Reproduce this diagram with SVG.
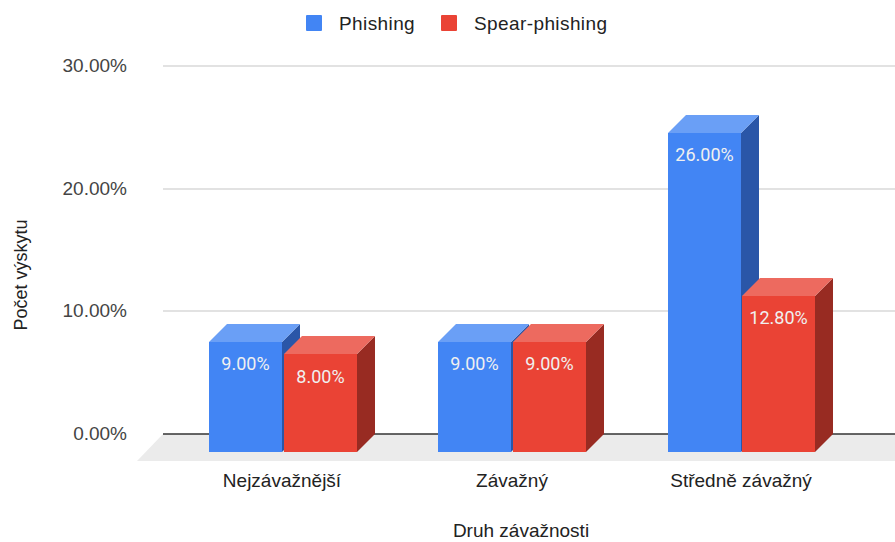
<svg xmlns="http://www.w3.org/2000/svg" width="895" height="542" viewBox="0 0 895 542">
  <style>
    .axis { font-family: "Liberation Sans", Arial, sans-serif; font-size: 19px; fill: #444; }
    .title { font-family: "Liberation Sans", Arial, sans-serif; font-size: 18px; fill: #222; }
    .cat { font-family: "Liberation Sans", Arial, sans-serif; font-size: 19px; fill: #222; text-anchor: middle; }
    .legend { font-family: "Liberation Sans", Arial, sans-serif; font-size: 19px; letter-spacing: 0.4px; fill: #222; }
    .val { font-family: Roboto, "Liberation Sans", sans-serif; font-size: 18px; fill: #f0f0f0; text-anchor: middle; }
    .grid { stroke: #d9d9d9; stroke-width: 1.5; }
    .b-front { fill: #4285f4; }
    .b-top { fill: #6a9ff6; }
    .b-side { fill: #2a56a8; }
    .r-front { fill: #ea4335; }
    .r-top { fill: #ed6a5f; }
    .r-side { fill: #982b22; }
  </style>
  <rect width="895" height="542" fill="#ffffff"/>

  <!-- legend -->
  <g id="legend">
    <rect x="306" y="15" width="16" height="16" rx="1" class="b-front"/>
    <text x="339" y="30" class="legend">Phishing</text>
    <rect x="441" y="15" width="16" height="16" rx="1" class="r-front"/>
    <text x="474" y="30" class="legend">Spear-phishing</text>
  </g>

  <!-- floor and grid -->
  <g id="plot-back">
    <polygon points="163,434 895,434 895,461 137,461" fill="#ebebeb"/>
    <line x1="163" y1="66" x2="895" y2="66" class="grid"/>
    <line x1="163" y1="189" x2="895" y2="189" class="grid"/>
    <line x1="163" y1="311" x2="895" y2="311" class="grid"/>
    <line x1="163" y1="434" x2="895" y2="434" stroke="#333" stroke-width="1.5"/>
  </g>

  <!-- y axis -->
  <g id="y-axis">
    <text x="127" y="72" class="axis" text-anchor="end">30.00%</text>
    <text x="127" y="195" class="axis" text-anchor="end">20.00%</text>
    <text x="127" y="317" class="axis" text-anchor="end">10.00%</text>
    <text x="127" y="440" class="axis" text-anchor="end">0.00%</text>
    <text transform="translate(27,275) rotate(-90)" class="title" text-anchor="middle">Počet výskytu</text>
  </g>

  <!-- bars: front face, top, side -->
  <g id="bar-nejzavaznejsi-phishing">
    <polygon points="282,342 300,324 300,434 282,452" class="b-side"/>
    <polygon points="209,342 227,324 300,324 282,342" class="b-top"/>
    <rect x="209" y="342" width="73" height="110" class="b-front"/>
    <text x="245.5" y="370" class="val">9.00%</text>
  </g>
  <g id="bar-nejzavaznejsi-spear">
    <polygon points="357,354 375,336 375,434 357,452" class="r-side"/>
    <polygon points="284,354 302,336 375,336 357,354" class="r-top"/>
    <rect x="284" y="354" width="73" height="98" class="r-front"/>
    <text x="320.5" y="383" class="val">8.00%</text>
  </g>

  <g id="bar-zavazny-phishing">
    <polygon points="511,342 529,324 529,434 511,452" class="b-side"/>
    <polygon points="438,342 456,324 529,324 511,342" class="b-top"/>
    <rect x="438" y="342" width="73" height="110" class="b-front"/>
    <text x="474.5" y="370" class="val">9.00%</text>
  </g>
  <g id="bar-zavazny-spear">
    <polygon points="586,342 604,324 604,434 586,452" class="r-side"/>
    <polygon points="513,342 531,324 604,324 586,342" class="r-top"/>
    <rect x="513" y="342" width="73" height="110" class="r-front"/>
    <text x="549.5" y="370" class="val">9.00%</text>
  </g>

  <g id="bar-stredne-phishing">
    <polygon points="741,133 759,115 759,434 741,452" class="b-side"/>
    <polygon points="668,133 686,115 759,115 741,133" class="b-top"/>
    <rect x="668" y="133" width="73" height="319" class="b-front"/>
    <text x="704.5" y="161" class="val">26.00%</text>
  </g>
  <g id="bar-stredne-spear">
    <polygon points="815,296 833,278 833,434 815,452" class="r-side"/>
    <polygon points="742,296 760,278 833,278 815,296" class="r-top"/>
    <rect x="742" y="296" width="73" height="156" class="r-front"/>
    <text x="778.5" y="324" class="val">12.80%</text>
  </g>

  <!-- x axis -->
  <g id="x-axis">
    <text x="282" y="487" class="cat">Nejzávažnější</text>
    <text x="512" y="487" class="cat">Závažný</text>
    <text x="741" y="487" class="cat">Středně závažný</text>
    <text x="521" y="537" class="cat">Druh závažnosti</text>
  </g>
</svg>
